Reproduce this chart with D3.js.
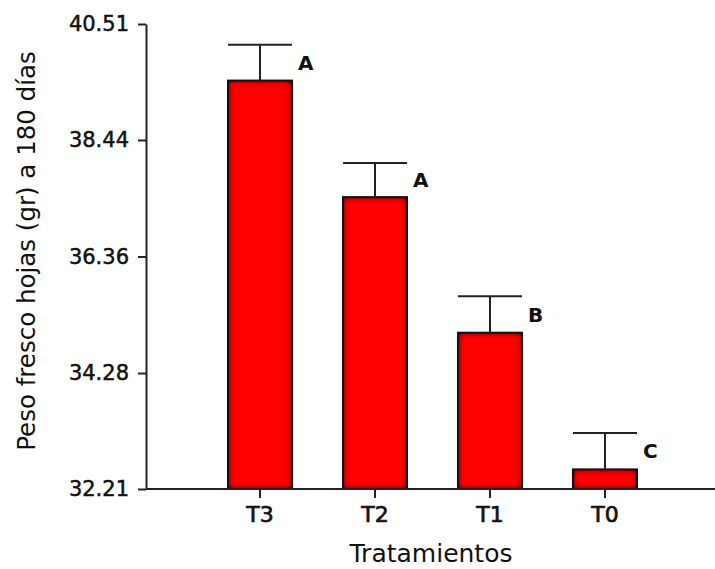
<!DOCTYPE html>
<html>
<head>
<meta charset="utf-8">
<script src="https://cdn.jsdelivr.net/npm/d3@7/dist/d3.min.js"></script>
<style>
  html, body { margin: 0; padding: 0; background: #fff; }
  svg { display: block; }
  text { font-family: "DejaVu Sans", "Liberation Sans", Arial, sans-serif; fill: #111; }
</style>
</head>
<body>
<svg id="chart" width="715" height="569"></svg>
<script>
// ---- data ----
const categories = ["T3", "T2", "T1", "T0"];
const means = [39.50, 37.42, 35.00, 32.56];
const errors = [0.64, 0.61, 0.65, 0.65];
const letters = ["A", "A", "B", "C"];
const yTicks = [32.21, 34.28, 36.36, 38.44, 40.51];
const yTickLabels = ["32.21", "34.28", "36.36", "38.44", "40.51"];
const xTitle = "Tratamientos";
const yTitle = "Peso fresco hojas (gr) a 180 días";

const svg = d3.select("#chart");
const m = { left: 146 };
const yBottom = 489;

const x = d3.scaleBand().domain(categories).range([146, 719]).paddingInner(0.443).paddingOuter(0.713);
const y = d3.scaleLinear().domain([32.21, 40.51]).range([yBottom, 24]);

// inner shading filter
const defs = svg.append("defs");
const f = defs.append("filter").attr("id", "inner").attr("x", "-5%").attr("y", "-5%").attr("width", "110%").attr("height", "110%");
f.append("feGaussianBlur").attr("in", "SourceAlpha").attr("stdDeviation", 3).attr("result", "blur");
f.append("feComposite").attr("in", "SourceAlpha").attr("in2", "blur").attr("operator", "arithmetic")
  .attr("k2", 1.7).attr("k3", -1.7).attr("result", "edge");
f.append("feFlood").attr("flood-color", "#500000").attr("flood-opacity", 1).attr("result", "col");
f.append("feComposite").attr("in", "col").attr("in2", "edge").attr("operator", "in").attr("result", "shadow");
const mg = f.append("feMerge");
mg.append("feMergeNode").attr("in", "SourceGraphic");
mg.append("feMergeNode").attr("in", "shadow");

const data = categories.map((c, i) => ({ c, v: means[i], e: errors[i], l: letters[i] }));

// bars
const g = svg.append("g");
g.selectAll("rect.fill").data(data).join("rect")
  .attr("class", "fill")
  .attr("x", d => x(d.c)).attr("width", x.bandwidth())
  .attr("y", d => y(d.v)).attr("height", d => yBottom - y(d.v))
  .attr("fill", "#ff0000").attr("filter", "url(#inner)");
g.selectAll("rect.edge").data(data).join("rect")
  .attr("class", "edge")
  .attr("x", d => x(d.c)).attr("width", x.bandwidth())
  .attr("y", d => y(d.v)).attr("height", d => yBottom - y(d.v))
  .attr("fill", "none").attr("stroke", "#111").attr("stroke-width", 2);

// error bars
g.selectAll("line.ev").data(data).join("line")
  .attr("class", "ev")
  .attr("x1", d => x(d.c) + x.bandwidth() / 2).attr("x2", d => x(d.c) + x.bandwidth() / 2)
  .attr("y1", d => y(d.v)).attr("y2", d => y(d.v + d.e))
  .attr("stroke", "#222").attr("stroke-width", 2);
g.selectAll("line.cap").data(data).join("line")
  .attr("class", "cap")
  .attr("x1", d => x(d.c)).attr("x2", d => x(d.c) + x.bandwidth())
  .attr("y1", d => y(d.v + d.e)).attr("y2", d => y(d.v + d.e))
  .attr("stroke", "#222").attr("stroke-width", 2);

// letters
g.selectAll("text.lt").data(data).join("text")
  .attr("class", "lt")
  .attr("x", d => x(d.c) + x.bandwidth() + 6)
  .attr("y", d => (y(d.v) + y(d.v + d.e)) / 2)
  .attr("dy", "0.36em")
  .attr("font-size", 20).attr("font-weight", "bold")
  .text(d => d.l);

// y axis
const yAxis = d3.axisLeft(y).tickValues(yTicks).tickFormat((d, i) => yTickLabels[i])
  .tickSize(8).tickSizeOuter(0).tickPadding(9);
const ya = svg.append("g").attr("transform", `translate(${m.left},0)`).call(yAxis);
ya.select(".domain").attr("stroke", "#222").attr("stroke-width", 2);
ya.selectAll(".tick line").attr("stroke", "#222").attr("stroke-width", 2);
ya.selectAll(".tick text").attr("font-size", 21).attr("font-family", null).attr("fill", "#111")
  .attr("stroke", "#111").attr("stroke-width", 0.5);

// x axis
const xAxis = d3.axisBottom(x).tickSize(9).tickSizeOuter(0).tickPadding(8);
const xa = svg.append("g").attr("transform", `translate(0,${yBottom})`).call(xAxis);
xa.select(".domain").attr("d", `M${m.left},0H715`).attr("stroke", "#222").attr("stroke-width", 2);
xa.selectAll(".tick line").attr("stroke", "#222").attr("stroke-width", 2);
xa.selectAll(".tick text").attr("font-size", 22).attr("font-family", null).attr("fill", "#111")
  .attr("stroke", "#111").attr("stroke-width", 0.7);

// titles
svg.append("text").attr("x", 431).attr("y", 562).attr("text-anchor", "middle")
  .attr("font-size", 25).text(xTitle);
svg.append("text").attr("transform", "translate(35,251) rotate(-90)").attr("text-anchor", "middle")
  .attr("font-size", 24.5).text(yTitle);
</script>
</body>
</html>
